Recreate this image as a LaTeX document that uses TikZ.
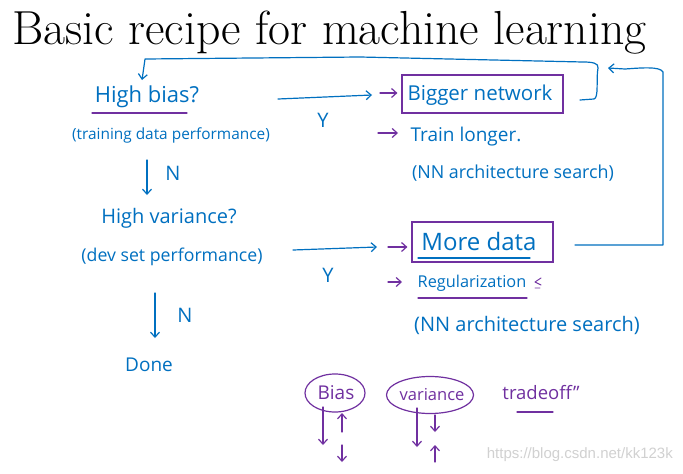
\documentclass[tikz,border=0pt]{standalone}
\usepackage{fontspec}
\newfontfamily\handfont{Open Sans}
\newfontfamily\wmfont{Liberation Sans}
\usetikzlibrary{arrows.meta,calc,shapes.geometric}
\definecolor{inkblue}{RGB}{0,112,192}
\definecolor{inkpurple}{RGB}{112,48,160}
\newcommand\handsz[1]{\fontsize{#1}{#1}\selectfont}
\begin{document}
\begin{tikzpicture}[x=1pt,y=-1pt,
  hand/.style={text=inkblue, inner sep=0pt},
  phand/.style={text=inkpurple, inner sep=0pt},
  pen/.style={draw=inkblue, line width=1.2pt, line cap=round, line join=round},
  ppen/.style={draw=inkpurple, line width=1.2pt, line cap=round, line join=round},
  tip/.style={-{Straight Barb[length=5pt,width=9pt]}},
  pbox/.style={draw=inkpurple, line width=1.2pt, inner sep=0pt},
  pell/.style={ellipse, draw=inkpurple, line width=1.2pt, inner sep=0pt},
]
\useasboundingbox (0,0) rectangle (683,474);
\fill[white] (0,0) rectangle (683,474);

% title
\node[anchor=base west, inner sep=0pt, font=\fontsize{47.8}{54}\selectfont] (title) at (12,44) {Basic recipe for machine learning};

% left column
\node[hand, font=\handfont\handsz{22}] (hb) at (147,97) {High bias?};
\draw[ppen] (92,113) -- (187,113);
\node[hand, font=\handfont\handsz{15.4}] (hbsub) at (171,135) {(training data performance)};
\coordinate (n1s) at (147,160);
\coordinate (n1e) at (147,195);
\draw[pen,tip] (n1s) -- (n1e);
\node[hand, font=\handfont\handsz{20}] (N1) at (173,173) {N};

\node[hand, font=\handfont\handsz{20}] (hv) at (169,218) {High variance?};
\node[hand, font=\handfont\handsz{17.7}] (hvsub) at (172,257) {(dev set performance)};
\coordinate (n2s) at (155,293);
\coordinate (n2e) at (155,338);
\draw[pen,tip] (n2s) -- (n2e);
\node[hand, font=\handfont\handsz{20}] (N2) at (185,315) {N};
\node[hand, font=\handfont\handsz{19}] (done) at (149,365) {Done};

% first branch
\coordinate (y1s) at (278,99);
\coordinate (y1e) at (372,95);
\draw[pen,tip] (y1s) -- (y1e);
\node[hand, font=\handfont\handsz{20}] (Y1) at (323,120) {Y};
\node[pbox, minimum width=161pt, minimum height=38pt] (box1) at (482.5,94) {};
\node[hand, font=\handfont\handsz{20.5}] (bn) at (480,95) {Bigger network};
\coordinate (p1) at (380,93);
\draw[ppen,tip,shorten >=4pt] (p1) -- (box1.west |- p1);
\coordinate (p2) at (378,133);
\coordinate (p2e) at (398,133);
\draw[ppen,tip] (p2) -- (p2e);
\node[hand, font=\handfont\handsz{19}] (tl) at (466,137) {Train longer.};
\node[hand, font=\handfont\handsz{17.9}] (nn1) at (513,173) {(NN architecture search)};

% loop back from box1
\coordinate (l1s) at (580,100);
\coordinate (hbtop) at (142,80);
\draw[pen,tip] (l1s) -- (594,99) .. controls (599,98) and (596,78) .. (598,68)
  .. controls (599,63) and (592,62) .. (583,62) -- (360,57) -- (145,59) -- (hbtop);

% second branch
\coordinate (y2s) at (293,250);
\coordinate (y2e) at (377,247);
\draw[pen,tip] (y2s) -- (y2e);
\node[hand, font=\handfont\handsz{20}] (Y2) at (328,275) {Y};
\node[pbox, minimum width=141pt, minimum height=40pt] (box2) at (482.5,242) {};
\node[hand, font=\handfont\handsz{24}] (md) at (479,241) {More data};
\draw[pen] (418,258) -- (530,258);
\coordinate (p3) at (388,247);
\draw[ppen,tip,shorten >=4pt] (p3) -- (box2.west |- p3);
\coordinate (p4) at (388,282);
\coordinate (p4e) at (402,282);
\draw[ppen,tip] (p4) -- (p4e);
\node[hand, font=\handfont\handsz{16.3}] (reg) at (472,283) {Regularization};
\draw[ppen] (418,298) -- (527,298);
\draw[ppen, line width=0.9pt] (541,278) -- (535,282) -- (541,285) (535,288) -- (540,288);
\node[hand, font=\handfont\handsz{20}] (nn2) at (527,325) {(NN architecture search)};

% loop back from box2
\coordinate (l2s) at (575,245);
\coordinate (l2e) at (608,68);
\draw[pen,tip] (l2s) -- (663,245) -- (663,72) .. controls (660,66) and (640,68) .. (625,69) -- (l2e);

% bias / variance
\node[pell, minimum width=60pt, minimum height=38pt] (bias) at (335,393) {};
\node[phand, font=\handfont\handsz{19}] (biast) at (336,393) {Bias};
\node[pell, minimum width=87pt, minimum height=37pt] (var) at (430,395) {};
\node[phand, font=\handfont\handsz{16.5}] (vart) at (432,395) {variance};
\coordinate (b1s) at (323,407); \coordinate (b1e) at (323,445);
\coordinate (b2s) at (342,432); \coordinate (b2e) at (342,413);
\coordinate (b3s) at (342,445); \coordinate (b3e) at (342,462);
\draw[ppen,tip] (b1s) -- (b1e);
\draw[ppen,tip] (b2s) -- (b2e);
\draw[ppen,tip] (b3s) -- (b3e);
\coordinate (v1s) at (417,408); \coordinate (v1e) at (417,447);
\coordinate (v2s) at (435,415); \coordinate (v2e) at (435,432);
\coordinate (v3s) at (435,462); \coordinate (v3e) at (435,445);
\draw[ppen,tip] (v1s) -- (v1e);
\draw[ppen,tip] (v2s) -- (v2e);
\draw[ppen,tip] (v3s) -- (v3e);
\node[phand, font=\handfont\handsz{18.5}] (to) at (541,393) {tradeoff”};
\draw[ppen] (517,412) -- (553,412);

% watermark
\node[anchor=east, inner sep=0pt, text=black!18, font=\wmfont\handsz{15}] (wm) at (673,455) {https://blog.csdn.net/kk123k};
\end{tikzpicture}
\end{document}
